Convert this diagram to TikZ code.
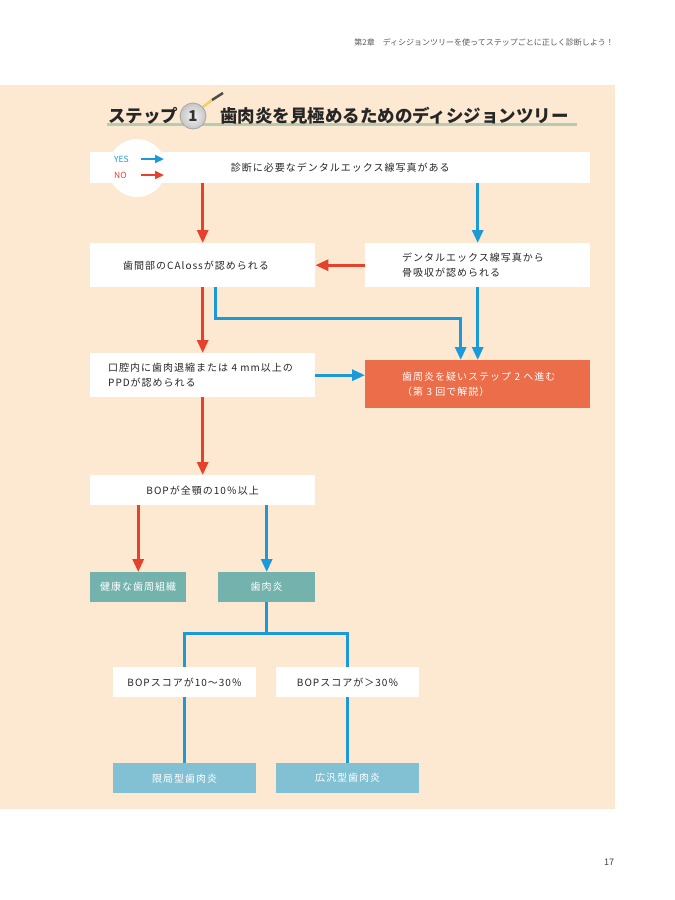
\documentclass[tikz,border=0pt]{standalone}
\usepackage{fontspec}
\setmainfont{Noto Sans CJK JP}
\usetikzlibrary{arrows.meta}
\definecolor{bgbeige}{HTML}{FDE9D2}
\definecolor{arrred}{HTML}{E5412B}
\definecolor{arrblue}{HTML}{1A9AD9}
\definecolor{boxorange}{HTML}{EC6D49}
\definecolor{boxteal}{HTML}{74B3AD}
\definecolor{boxlblue}{HTML}{82C1D3}
\definecolor{ulgreen}{HTML}{B7CBB3}
\definecolor{handle}{HTML}{F0D060}
\begin{document}
\begin{tikzpicture}[x=1pt,y=-1pt,
  boxfont/.style={font=\fontsize{10}{15}\selectfont\addfontfeatures{LetterSpace=10}},
  qbox/.style={boxfont, fill=white, inner ysep=0pt, anchor=north west, text=black!85},
  lbox/.style={qbox, align=left},
  cbox/.style={qbox, inner xsep=0pt, align=center},
  colbox/.style={boxfont, inner sep=0pt, anchor=north west, align=center, text=white},
  redarr/.style={draw=arrred, line width=3pt, -{Triangle[length=13pt,width=11pt]}},
  bluearr/.style={draw=arrblue, line width=3pt, -{Triangle[length=13pt,width=11pt]}},
  blueline/.style={draw=arrblue, line width=3pt},
  legarr/.style={line width=2.5pt, -{Triangle[length=9pt,width=8pt]}}
]
\useasboundingbox (0,0) rectangle (675,900);
\fill[white] (0,0) rectangle (675,900);
\fill[bgbeige] (0,85) rectangle (615,809);

% header and page number
\node[anchor=base east, font=\fontsize{8}{9}\selectfont, text=black!65, inner sep=0] (header) at (614,45) {第2章　ディシジョンツリーを使ってステップごとに正しく診断しよう！};
\node[font=\fontsize{9}{10}\selectfont, text=black!75, inner sep=0] (pagenum) at (609,862) {17};

% title
\draw[ulgreen, line width=3pt] (107,124) -- (577,124);
\node[anchor=base west, inner sep=0, font=\fontsize{17.5}{20}\selectfont\bfseries, text=black!85] (tstep) at (108,122) {ステップ};
\draw[handle, line width=2.5pt] (203,107) -- (212,100);
\draw[black!70, line width=2.5pt] (212,100) -- (223,93);
\node[circle, draw=gray!70, line width=0.8pt, inner color=gray!10, outer color=gray!45, minimum size=26pt, inner sep=0, font=\fontsize{15}{16}\selectfont\bfseries, text=black!80] (tone) at (193,116) {1};
\node[anchor=base west, inner sep=0, font=\fontsize{17.5}{20}\selectfont\bfseries, text=black!85] (ttitle) at (220,122) {歯肉炎を見極めるためのディシジョンツリー};

% legend circle
\fill[white] (137,168) circle (29);

% boxes
\node[cbox, minimum width=500pt, minimum height=31pt] (q1) at (90,152) {診断に必要なデンタルエックス線写真がある};
\node[lbox, inner xsep=33pt, text width=159pt, minimum height=44pt] (q2L) at (90,243) {歯間部のCAlossが認められる};
\node[lbox, inner xsep=37pt, text width=151pt, minimum height=44pt] (q2R) at (365,243) {デンタルエックス線写真から\\骨吸収が認められる};
\node[lbox, inner xsep=18pt, text width=189pt, minimum height=44pt] (q3) at (90,353) {口腔内に歯肉退縮または~4~mm以上の\\PPDが認められる};
\node[colbox, fill=boxorange, inner xsep=37pt, text width=151pt, align=left, minimum height=48pt] (r4) at (365,360) {\mbox{歯周炎を疑いステップ~2~へ進む}\\（第~3~回で解説）};
\node[cbox, minimum width=225pt, minimum height=30pt] (q5) at (90,475) {BOPが全顎の10％以上};
\node[colbox, fill=boxteal, minimum width=96pt, minimum height=30pt] (t6) at (90,572) {健康な歯周組織};
\node[colbox, fill=boxteal, minimum width=97pt, minimum height=30pt] (t7) at (218,572) {歯肉炎};
\node[cbox, minimum width=143pt, minimum height=30pt] (q8) at (113,667) {BOPスコアが10～30％};
\node[cbox, minimum width=143pt, minimum height=30pt] (q9) at (276,667) {BOPスコアが＞30％};
\node[colbox, fill=boxlblue, minimum width=143pt, minimum height=30pt] (b10) at (113,763) {限局型歯肉炎};
\node[colbox, fill=boxlblue, minimum width=143pt, minimum height=30pt] (b11) at (276,763) {広汎型歯肉炎};

% legend
\node[anchor=west, inner sep=0, font=\fontsize{8.5}{9}\selectfont, text=arrblue] (yes) at (114,159) {YES};
\node[anchor=west, inner sep=0, font=\fontsize{8.5}{9}\selectfont, text=arrred] (no) at (114,175) {NO};
\coordinate (yesA) at (141,159);
\coordinate (yesB) at (164,159);
\coordinate (noA) at (141,175);
\coordinate (noB) at (164,175);
\draw[legarr, arrblue] (yesA) -- (yesB);
\draw[legarr, arrred] (noA) -- (noB);

% connectors
\draw[redarr] (q2L.north |- q1.south) -- (q2L.north);
\draw[bluearr] (q2R.north |- q1.south) -- (q2R.north);
\draw[redarr] (q2R.west) -- (q2L.east);
\draw[redarr] (q2L.south) -- (q3.north);
\draw[bluearr] ([xshift=13pt]q2L.south) -- ++(0,31) -| ([xshift=-17pt]r4.north);
\draw[bluearr] (q2R.south) -- (r4.north);
\draw[bluearr] (q3.east) -- (q3.east -| r4.west);
\draw[redarr] (q3.south) -- (q5.north);
\draw[redarr] (t6.north |- q5.south) -- (t6.north);
\draw[bluearr] (t7.north |- q5.south) -- (t7.north);
\draw[blueline] (t7.south) -- ++(0,31) coordinate (split) -| (q8.north);
\draw[blueline] (split) -| (q9.north);
\draw[blueline] (q8.south) -- (b10.north);
\draw[blueline] (q9.south) -- (b11.north);
\end{tikzpicture}
\end{document}
